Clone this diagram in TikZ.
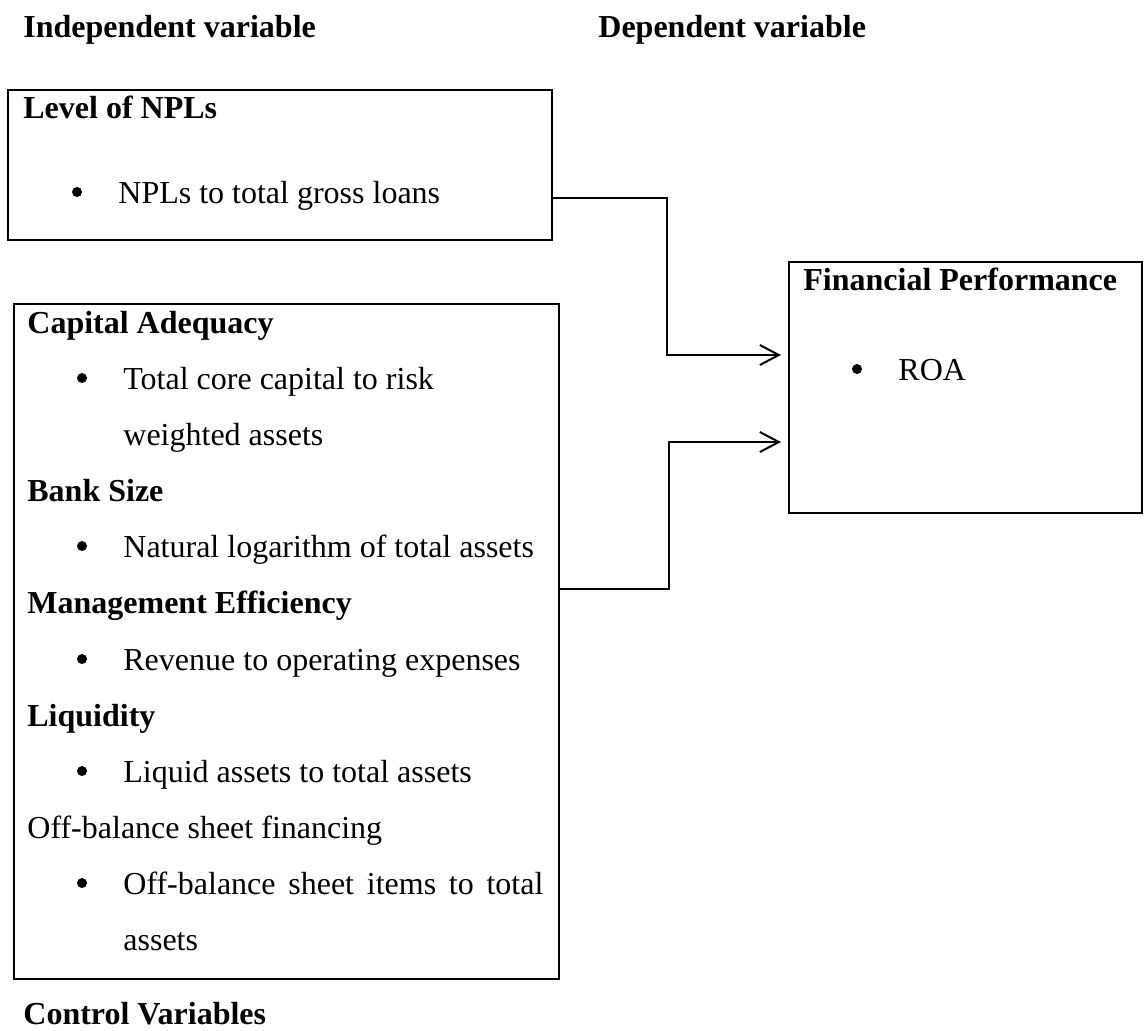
\documentclass[tikz,border=0pt]{standalone}
\usepackage{fontspec}
\setmainfont{Liberation Serif}
\usetikzlibrary{arrows.meta}

\begin{document}
\begin{tikzpicture}[x=0.5pt,y=-0.5pt]
    % Definizione stili
    \tikzstyle{box}=[draw, line width=1pt, anchor=north west, inner sep=0pt]
    \tikzstyle{txt}=[anchor=base west, inner sep=0pt, font=\fontsize{16}{19}\selectfont]
    \tikzstyle{title}=[txt, font=\fontsize{16}{19}\selectfont\bfseries]
    \tikzstyle{dot}=[circle, fill=black, inner sep=0pt, minimum size=5pt]
    \tikzstyle{link}=[line width=1pt, -{Straight Barb[length=9.5pt, width=10pt, line width=1pt]}, shorten >=3.5pt]

    \useasboundingbox (0,0) rectangle (1144,1030);

    % Intestazioni
    \node[title] (indep) at (23,37) {Independent variable};
    \node[title] (dep) at (598,37) {Dependent variable};

    % Riquadri
    \node[box, minimum width=272pt, minimum height=75pt] (npl) at (7,89) {};
    \node[box, minimum width=272.5pt, minimum height=337.5pt] (ctrl) at (13,303) {};
    \node[box, minimum width=176.5pt, minimum height=125.5pt] (perf) at (788,261) {};

    % Livello dei NPL
    \node[title] (npltitle) at (23,118) {Level of NPLs};
    \node[dot] (npldot) at (77,192) {};
    \node[txt] (nplitem) at (118,203) {NPLs to total gross loans};

    % Variabili di controllo
    \node[title] (captitle) at (27,333) {Capital Adequacy};
    \node[dot] (capdot) at (82,378) {};
    \node[txt] (capitem) at (123,389) {Total core capital to risk};
    \node[txt] (capitemb) at (123,445) {weighted assets};
    \node[title] (sizetitle) at (27,501) {Bank Size};
    \node[dot] (sizedot) at (82,546) {};
    \node[txt] (sizeitem) at (123,557) {Natural logarithm of total assets};
    \node[title] (mgmttitle) at (27,613) {Management Efficiency};
    \node[dot] (mgmtdot) at (82,659) {};
    \node[txt] (mgmtitem) at (123,670) {Revenue to operating expenses};
    \node[title] (liqtitle) at (27,726) {Liquidity};
    \node[dot] (liqdot) at (82,771) {};
    \node[txt] (liqitem) at (123,782) {Liquid assets to total assets};
    \node[txt] (obstitle) at (27,838) {Off-balance sheet financing};
    \node[dot] (obsdot) at (82,883) {};
    \node[txt] (obsitem) at (123,894) {\makebox[210pt][s]{Off-balance sheet items to total}};
    \node[txt] (obsitemb) at (123,950) {assets};
    \node[title] (ctrlvar) at (23,1024) {Control Variables};

    % Performance finanziaria
    \node[title] (perftitle) at (803,290) {Financial Performance};
    \node[dot] (perfdot) at (857,369) {};
    \node[txt] (perfitem) at (898,380) {ROA};

    % Frecce verso la variabile dipendente
    \draw[link] (npl.east |- 0,198) -- (667,198) |- (perf.west |- 0,355);
    \draw[link] (ctrl.east |- 0,589) -- (669,589) |- (perf.west |- 0,442);
\end{tikzpicture}
\end{document}
